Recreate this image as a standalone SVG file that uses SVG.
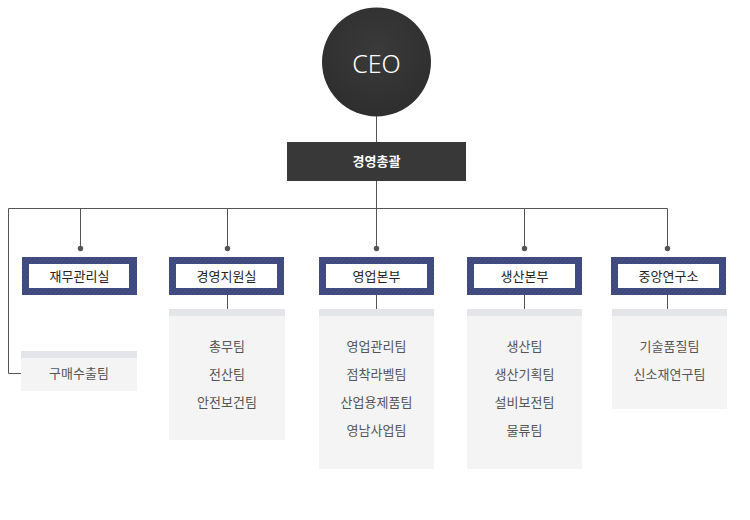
<svg xmlns="http://www.w3.org/2000/svg" width="750" height="520" viewBox="0 0 750 520">
<defs>
<pattern id="hatch" width="3" height="3" patternUnits="userSpaceOnUse" patternTransform="rotate(45)">
<rect width="3" height="3" fill="#3d497b"/>
<rect width="1" height="3" fill="#45518a"/>
</pattern>
<radialGradient id="ceoG" cx="50%" cy="40%" r="60%">
<stop offset="0" stop-color="#3a3a3a"/>
<stop offset="1" stop-color="#2e2e2e"/>
</radialGradient>
</defs>
<style>
.ln{stroke:#555;stroke-width:1;fill:none}
.dot{fill:#555}
.dept{fill:url(#hatch)}
.inner{fill:#fff}
.dt{font-family:"Noto Sans CJK KR","Noto Sans",sans-serif;font-size:13px;fill:#222;text-anchor:middle}
.tb{fill:#f4f4f4}
.th{fill:#e4e5e8}
.tt{font-family:"Noto Sans CJK KR","Noto Sans",sans-serif;font-size:13px;fill:#555;text-anchor:middle}
</style>
<rect width="750" height="520" fill="#fff"/>
<g id="connectors">
<line class="ln" x1="376.5" y1="116" x2="376.5" y2="142"/>
<line class="ln" x1="376.5" y1="181" x2="376.5" y2="248"/>
<polyline class="ln" points="21,373.5 8.5,373.5 8.5,208.5 667.5,208.5 667.5,248"/>
<line class="ln" x1="80.5" y1="208" x2="80.5" y2="248"/>
<line class="ln" x1="227.5" y1="208" x2="227.5" y2="248"/>
<line class="ln" x1="524.5" y1="208" x2="524.5" y2="248"/>
<circle class="dot" cx="80.5" cy="248.5" r="2.7"/>
<circle class="dot" cx="227.5" cy="248.5" r="2.7"/>
<circle class="dot" cx="376.5" cy="248.5" r="2.7"/>
<circle class="dot" cx="524.5" cy="248.5" r="2.7"/>
<circle class="dot" cx="667.5" cy="248.5" r="2.7"/>
<line class="ln" x1="227.5" y1="295" x2="227.5" y2="309"/>
<line class="ln" x1="376.5" y1="295" x2="376.5" y2="309"/>
<line class="ln" x1="524.5" y1="295" x2="524.5" y2="309"/>
<line class="ln" x1="667.5" y1="295" x2="667.5" y2="309"/>
</g>
<g id="ceo">
<circle cx="376.5" cy="62" r="54.5" fill="url(#ceoG)"/>
<text x="376.5" y="73" font-family="'Noto Sans','Open Sans',sans-serif" font-weight="300" font-size="25" fill="#fff" text-anchor="middle">CEO</text>
</g>
<g id="general">
<rect x="287" y="142" width="179" height="39" fill="#383838"/>
<text x="376.5" y="166" font-family="'Noto Sans CJK KR',sans-serif" font-weight="bold" font-size="13" fill="#fff" text-anchor="middle">경영총괄</text>
</g>
<g id="dept-finance">
<rect class="dept" x="22" y="257" width="115" height="38"/>
<rect class="inner" x="29" y="264" width="100" height="24"/>
<text class="dt" x="79.5" y="281">재무관리실</text>
</g>
<g id="dept-support">
<rect class="dept" x="169" y="257" width="115" height="38"/>
<rect class="inner" x="176" y="264" width="101" height="24"/>
<text class="dt" x="226.5" y="281">경영지원실</text>
</g>
<g id="dept-sales">
<rect class="dept" x="319" y="257" width="115" height="38"/>
<rect class="inner" x="326" y="264" width="101" height="24"/>
<text class="dt" x="376.5" y="281">영업본부</text>
</g>
<g id="dept-production">
<rect class="dept" x="467" y="257" width="115" height="38"/>
<rect class="inner" x="474" y="264" width="101" height="24"/>
<text class="dt" x="524.5" y="281">생산본부</text>
</g>
<g id="dept-research">
<rect class="dept" x="611" y="257" width="115" height="38"/>
<rect class="inner" x="618" y="264" width="101" height="24"/>
<text class="dt" x="668.5" y="281">중앙연구소</text>
</g>
<g id="teams-finance">
<rect class="tb" x="21" y="351" width="116" height="40"/>
<rect class="th" x="21" y="351" width="116" height="7"/>
<text class="tt" x="79" y="378">구매수출팀</text>
</g>
<g id="teams-support">
<rect class="tb" x="169" y="309" width="116" height="131"/>
<rect class="th" x="169" y="309" width="116" height="7"/>
<text class="tt" x="227" y="351">총무팀</text>
<text class="tt" x="227" y="379">전산팀</text>
<text class="tt" x="227" y="407">안전보건팀</text>
</g>
<g id="teams-sales">
<rect class="tb" x="319" y="309" width="115" height="160"/>
<rect class="th" x="319" y="309" width="115" height="7"/>
<text class="tt" x="376.5" y="351">영업관리팀</text>
<text class="tt" x="376.5" y="379">점착라벨팀</text>
<text class="tt" x="376.5" y="407">산업용제품팀</text>
<text class="tt" x="376.5" y="435">영남사업팀</text>
</g>
<g id="teams-production">
<rect class="tb" x="467" y="309" width="115" height="160"/>
<rect class="th" x="467" y="309" width="115" height="7"/>
<text class="tt" x="524.5" y="351">생산팀</text>
<text class="tt" x="524.5" y="379">생산기획팀</text>
<text class="tt" x="524.5" y="407">설비보전팀</text>
<text class="tt" x="524.5" y="435">물류팀</text>
</g>
<g id="teams-research">
<rect class="tb" x="612" y="309" width="115" height="100"/>
<rect class="th" x="612" y="309" width="115" height="7"/>
<text class="tt" x="669.5" y="351">기술품질팀</text>
<text class="tt" x="669.5" y="379">신소재연구팀</text>
</g>
</svg>
